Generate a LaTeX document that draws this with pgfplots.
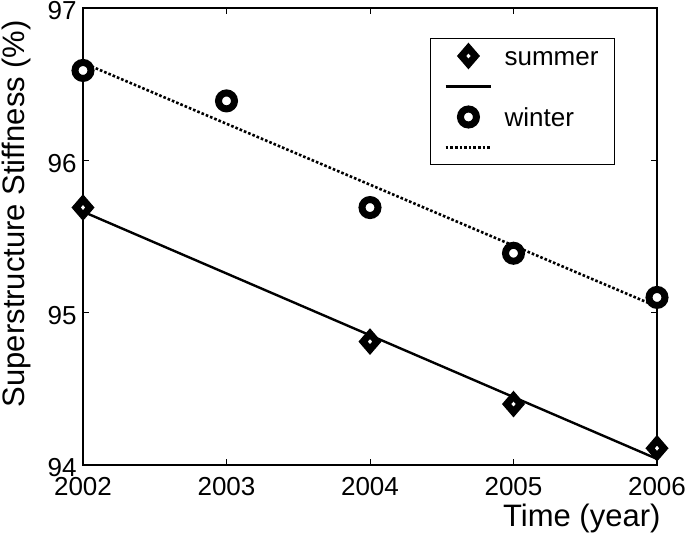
\documentclass[border=0pt]{standalone}
\usepackage{fontspec}
\setmainfont{Liberation Sans}
\usepackage{pgfplots}
\pgfplotsset{compat=1.18}

\begin{document}
\begin{tikzpicture}
\useasboundingbox (-83pt,-69pt) rectangle (602pt,465pt);
\begin{axis}[
  scale only axis,
  width=574pt,
  height=457pt,
  xmin=2002, xmax=2006,
  ymin=94, ymax=97,
  xtick={2002,2003,2004,2005,2006},
  ytick={94,95,96,97},
  tick align=inside,
  major tick length=6pt,
  axis line style={line width=1.3pt},
  tick style={line width=1pt, black},
  /pgf/number format/assume math mode=true,
  /pgf/number format/1000 sep={},
  tick label style={font=\fontsize{26}{29}\selectfont},
  xticklabel style={yshift=-9pt},
  yticklabel style={xshift=-3pt, yshift=-3pt},
  label style={font=\fontsize{31}{34}\selectfont},
  ylabel={Superstructure Stiffness (\%)},
  ylabel style={at={(axis description cs:-0.115,0.55)}, anchor=center, inner sep=0pt},
  xlabel={Time (year)},
  xlabel style={at={(axis description cs:0.869,0)}, anchor=center, yshift=-53pt},
  legend style={at={(0.927,0.934)}, anchor=north east, draw=black, line width=1.2pt,
    font=\fontsize{26}{30}\selectfont, row sep=4pt, inner xsep=14pt, inner ysep=4pt,
    cells={anchor=west}},
  legend cell align=left,
]
\addplot[only marks, mark=diamond*, mark size=8pt, mark options={draw=black, fill=white, line width=7pt, xscale=1.15}, legend image code/.code={\path[draw=none] (-0.05cm,0cm) -- (1.95cm,0cm); \draw[mark options={draw=black, fill=white, line width=7pt, xscale=1.15}] plot[only marks] coordinates {(0.75cm,0cm)};}]
  coordinates {(2002,95.69) (2004,94.81) (2005,94.40) (2006,94.11)};
\addlegendentry{\strut summer}
\addplot[black, line width=2.4pt, no marks, legend image code/.code={\path[draw=none] (-0.05cm,0cm) -- (1.95cm,0cm); \draw[line width=2.4pt] (-0.05cm,0cm) -- (1.55cm,0cm);}]
  coordinates {(2002,95.663) (2006,94.040)};
\addlegendentry{\strut}
\addplot[only marks, mark=*, mark size=8pt, mark options={draw=black, fill=white, line width=7pt}, legend image code/.code={\path[draw=none] (-0.05cm,0cm) -- (1.95cm,0cm); \draw[mark options={draw=black, fill=white, line width=7pt}] plot[only marks] coordinates {(0.75cm,0cm)};}]
  coordinates {(2002,96.59) (2003,96.39) (2004,95.69) (2005,95.39) (2006,95.10)};
\addlegendentry{\strut winter}
\addplot[black, line width=2.6pt, dotted, no marks, legend image code/.code={\path[draw=none] (-0.05cm,0cm) -- (1.95cm,0cm); \draw[line width=2.6pt, dotted] (-0.05cm,0cm) -- (1.55cm,0cm);}]
  coordinates {(2002,96.64) (2006,95.04)};
\addlegendentry{\strut}
\end{axis}
\end{tikzpicture}
\end{document}
